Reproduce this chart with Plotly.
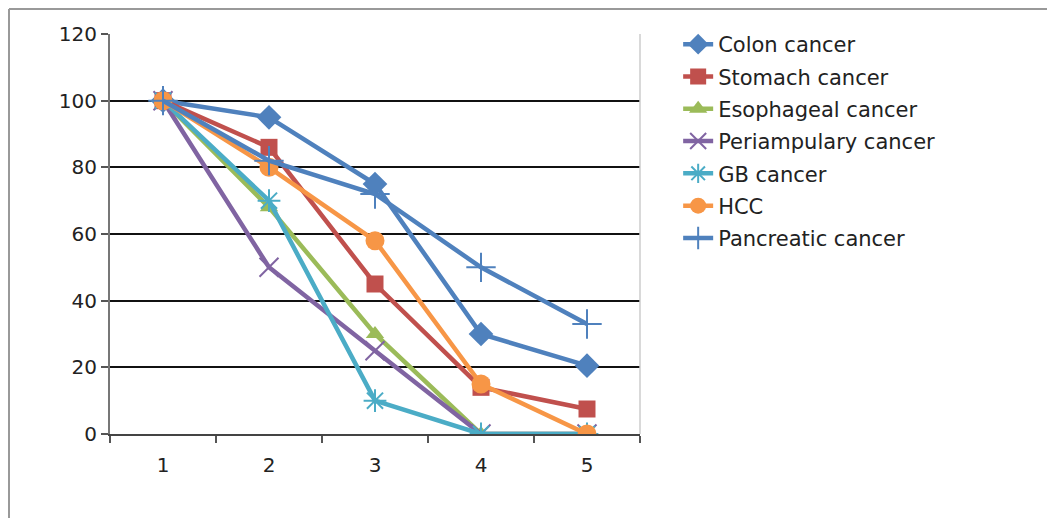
import plotly.graph_objects as go

days = ["1", "2", "3", "4", "5"]

names = ["Colon cancer", "Stomach cancer", "Esophageal cancer",
         "Periampulary cancer", "GB cancer", "HCC", "Pancreatic cancer"]

colon = [100, 95, 75, 30, 20.5]
stomach = [100, 86, 45, 14, 7.5]
esophageal = [100, 68, 30, 0, 0]
periampulary = [100, 50, 25, 0, 0]
gb = [100, 70, 10, 0, 0]
hcc = [100, 80, 58, 15, 0]
pancreatic = [100, 82, 72, 50, 33]

series = [colon, stomach, esophageal, periampulary, gb, hcc, pancreatic]
colors = ["#4F81BD", "#C0504D", "#9BBB59", "#8064A2", "#4BACC6", "#F79646", "#4F81BD"]
symbols = ["diamond", "square", "triangle-up", "x-thin", "asterisk", "circle", "cross-thin"]
sizes = [19, 17, 16, 19, 19, 19, 21]

fig = go.Figure()

for name, vals, col, sym, sz in zip(names, series, colors, symbols, sizes):
    thin = sym in ("x-thin", "asterisk", "cross-thin")
    fig.add_trace(go.Scatter(
        x=days, y=vals, name=name, mode="lines+markers",
        line=dict(color=col, width=4.5),
        marker=dict(symbol=sym, size=sz, color=col,
                    line=dict(color=col, width=2 if thin else 0)),
        legendgroup=name,
    ))

# page has an 8px body margin, so the figure is 8px smaller than the window
fig.update_layout(
    width=1047, height=510,
    margin=dict(l=102, r=415, t=26, b=84),
    plot_bgcolor="white", paper_bgcolor="white",
    font=dict(family="DejaVu Sans", size=20, color="#222222"),
    legend=dict(x=1.072, y=1.025, xanchor="left", yanchor="top",
                font=dict(size=21, color="#222222"), tracegroupgap=2,
                bgcolor="rgba(0,0,0,0)"),
    showlegend=True,
)

fig.update_xaxes(
    type="category", range=[-0.5, 4.5],
    tickson="boundaries", ticks="outside", ticklen=7, tickcolor="#555555", tickwidth=2,
    ticklabelstandoff=12,
    showline=True, linecolor="#444444", linewidth=2,
    showgrid=False, zeroline=False,
)
fig.update_yaxes(
    range=[0, 120], dtick=20, ticks="outside", ticklen=7, tickcolor="#555555", tickwidth=2,
    showline=True, linecolor="#777777", linewidth=2,
    showgrid=True, gridcolor="#111111", gridwidth=1.5, zeroline=False,
)

# faint right edge of the plot area
fig.add_shape(type="line", xref="paper", yref="paper", x0=1, x1=1, y0=0, y1=1,
              line=dict(color="#cccccc", width=1.5))
# chart outer frame (top and left)
fig.add_shape(type="line", xref="paper", yref="paper",
              x0=-101 / 530, x1=945 / 530, y0=425 / 400, y1=425 / 400,
              line=dict(color="#999999", width=2))
fig.add_shape(type="line", xref="paper", yref="paper",
              x0=-101 / 530, x1=-101 / 530, y0=-90 / 400, y1=425 / 400,
              line=dict(color="#999999", width=2))

fig.write_html("out.html")
